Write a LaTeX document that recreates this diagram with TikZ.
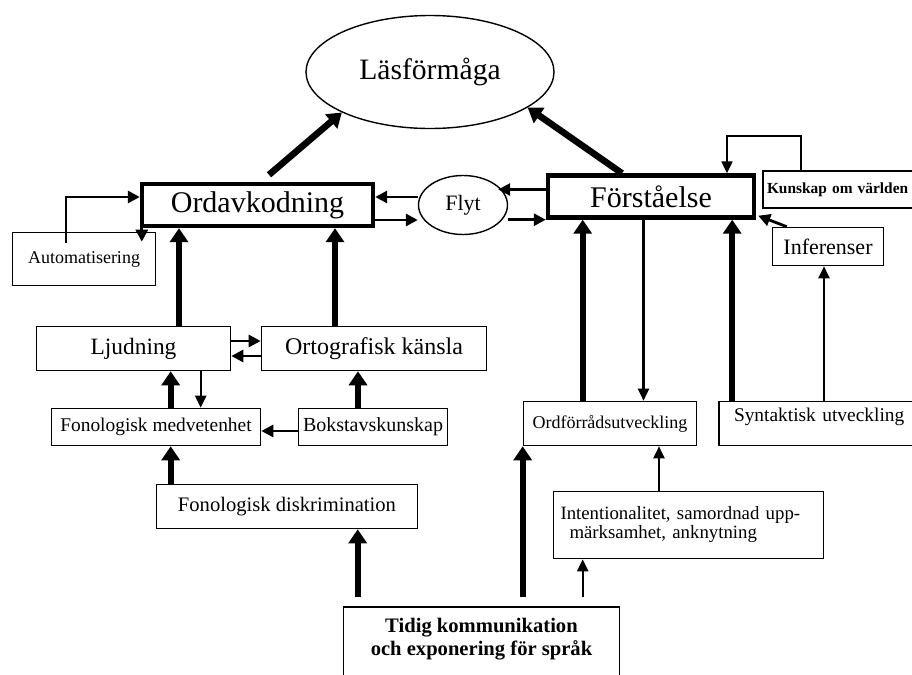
\documentclass[tikz,border=0pt]{standalone}
\usepackage{fontspec}
\setmainfont{Liberation Serif}
\usetikzlibrary{arrows.meta,shapes.geometric,positioning,calc}

\tikzset{
  box/.style={draw, line width=0.8pt, inner sep=0pt},
  mainbox/.style={draw, line width=2.2pt, inner sep=0pt, minimum height=21pt},
  oval/.style={ellipse, draw, line width=0.7pt, inner sep=0pt},
  bigarrow/.style={line width=3pt, -{Triangle[width=9pt,length=7pt]}},
  midarrow/.style={line width=1.4pt, -{Triangle[width=6pt,length=6pt]}},
  thinarrow/.style={line width=1.1pt, -{Triangle[width=5.5pt,length=6pt]}},
}

\begin{document}
\begin{tikzpicture}[x=0.5pt,y=-0.5pt]
\clip (0,0) rectangle (912,675);
% top
\node[oval, minimum width=124pt, minimum height=56.5pt, font=\fontsize{14.8}{18}\selectfont] (lf) at (430,72) {Läsförmåga};
\node[mainbox, minimum width=115.5pt, font=\fontsize{15}{18}\selectfont] (ordav) at (257.5,205) {Ordavkodning};
\node[mainbox, minimum width=103pt, font=\fontsize{15}{18}\selectfont] (forst) at (651,196.5) {Förståelse};
\node[oval, minimum width=44.5pt, minimum height=29.5pt, font=\fontsize{11}{13}\selectfont] (flyt) at (463,205) {Flyt};
\node[box, minimum width=71.5pt, minimum height=26.5pt, font=\fontsize{9}{11}\selectfont] (auto) at (84,259) {Automatisering};
\node[box, text width=79.5pt, align=left, inner xsep=2pt, minimum height=18.5pt, font=\bfseries\fontsize{7.7}{10}\selectfont] (kunsk) at (846.5,189.5) {Kunskap om världen};
\node[box, minimum width=55.5pt, minimum height=19pt, font=\fontsize{11}{13}\selectfont] (infer) at (828,246.5) {Inferenser};
% left side
\node[box, minimum width=97pt, minimum height=22pt, font=\fontsize{11.7}{14}\selectfont] (ljud) at (133.5,348.5) {Ljudning};
\node[box, minimum width=112.5pt, minimum height=22pt, font=\fontsize{12}{14}\selectfont] (orto) at (374,348.5) {Ortografisk känsla};
\node[box, minimum width=104.5pt, minimum height=18.5pt, font=\fontsize{9.7}{12}\selectfont] (fonmed) at (156,427) {Fonologisk medvetenhet};
\node[box, minimum width=74.5pt, minimum height=18.5pt, font=\fontsize{10}{12}\selectfont] (bokst) at (373,427) {Bokstavskunskap};
\node[box, minimum width=130.5pt, minimum height=22pt, font=\fontsize{10.3}{12}\selectfont] (fondis) at (287,506.5) {Fonologisk diskrimination};
% right side
\node[box, minimum width=86.5pt, text height=13.5pt, text depth=8.5pt, font=\fontsize{9}{11}\selectfont] (ordf) at (610,423.5) {Ordförrådsutveckling};
\node[box, text width=90.5pt, align=left, inner xsep=7.5pt, text height=10pt, text depth=12pt, font=\fontsize{9.7}{12}\selectfont] (synt) at (824.5,423.5) {Syntaktisk utveckling};
\node[box, text width=128pt, inner xsep=3.5pt, minimum height=33.5pt, align=left, font=\fontsize{9.4}{9.5}\selectfont] (intent) at (688.5,525) {Intentionalitet, samordnad upp-\\\hspace*{4.5pt}märksamhet, anknytning};
\node[box, anchor=north, minimum width=138pt, text height=13pt, text depth=40pt, font=\bfseries\fontsize{10.3}{11.5}\selectfont] (tidig) at (481.5,606) {\begin{tabular}[t]{@{}c@{}}Tidig kommunikation\\och exponering för språk\end{tabular}};

% into Läsförmåga
\draw[bigarrow, line width=3.3pt] ([xshift=5.75pt,yshift=3.5pt]ordav.north) -- (lf.south west);
\draw[bigarrow, line width=3.3pt] ([xshift=-14.5pt]forst.north) -- (lf.-20);
% Automatisering and Flyt
\draw[midarrow] ([xshift=-9pt,yshift=-5.5pt]auto.north) |- ([yshift=4pt]ordav.west);
\draw[midarrow] ([xshift=1pt]ordav.south west) -- ([xshift=1pt,yshift=-5pt]ordav.south west |- auto.north);
\draw[midarrow] ([yshift=4pt]ordav.east -| flyt.west) -- ([yshift=4pt]ordav.east);
\draw[midarrow] ([yshift=-7.5pt]ordav.east) -- ([yshift=-7.5pt]ordav.east -| flyt.west);
\draw[midarrow] ([yshift=3.5pt]forst.west) -- ([xshift=-5pt,yshift=3.5pt]forst.west -| flyt.east);
\draw[midarrow] (forst.south west -| flyt.east) -- (forst.south west);
% Förståelse inputs
\draw[thinarrow] ([xshift=19.5pt]kunsk.north west) -- ++(0,-34) -| ([xshift=38pt]forst.north);
\draw[midarrow] ([xshift=7.5pt]infer.north west) -- ([xshift=1pt,yshift=2pt]forst.south east);
\draw[thinarrow] ([xshift=-2pt]infer.south |- synt.north) -- ([xshift=-2pt]infer.south);
\draw[bigarrow] ([xshift=30pt]ordf.north west) -- ([xshift=30pt]ordf.north west |- forst.south);
\draw[thinarrow] ([xshift=16.75pt]ordf.north |- forst.south) -- ([xshift=16.75pt]ordf.north);
\draw[bigarrow] ([xshift=7pt]synt.north west) -- ([xshift=7pt]synt.north west |- forst.south);
\draw[thinarrow] ([xshift=-14.75pt]intent.north) -- ([xshift=-14.75pt]intent.north |- ordf.south);
% from Tidig kommunikation
\draw[bigarrow] ([yshift=4.5pt]tidig.north -| ordf.south west) -- (ordf.south west);
\draw[thinarrow] ([xshift=15pt,yshift=4.5pt]intent.south west |- tidig.north) -- ([xshift=15pt]intent.south west);
\draw[bigarrow] ([xshift=7.5pt,yshift=4.5pt]tidig.north west) -- ([xshift=7.5pt]tidig.north west |- fondis.south);
% left chain
\draw[bigarrow] ([xshift=60pt]fonmed.south west |- fondis.north) -- ([xshift=60pt]fonmed.south west);
\draw[bigarrow] ([xshift=60pt]fonmed.north west) -- ([xshift=60pt]fonmed.north west |- ljud.south);
\draw[thinarrow] ([xshift=75pt]fonmed.north west |- ljud.south) -- ([xshift=75pt]fonmed.north west);
\draw[midarrow] ([yshift=-2pt]bokst.west) -- ([yshift=-2pt]bokst.west -| fonmed.east);
\draw[bigarrow] ([xshift=-7.5pt]bokst.north) -- ([xshift=-7.5pt]bokst.north |- orto.south);
\draw[midarrow] ([yshift=3.75pt]ljud.east) -- ([yshift=3.75pt]ljud.east -| orto.west);
\draw[midarrow] ([yshift=-3.75pt]orto.west) -- ([yshift=-3.75pt]orto.west -| ljud.east);
\draw[bigarrow] ([xshift=22.75pt]ljud.north) -- ([xshift=22.75pt]ljud.north |- ordav.south);
\draw[bigarrow] ([xshift=-19.5pt]orto.north) -- ([xshift=-19.5pt]orto.north |- ordav.south);
\end{tikzpicture}
\end{document}
